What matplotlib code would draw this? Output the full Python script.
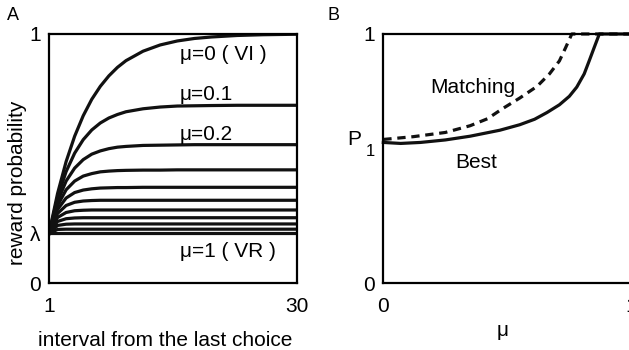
import matplotlib
matplotlib.use('Agg')
import matplotlib.pyplot as plt

plt.rcParams['font.family'] = ['Liberation Sans', 'DejaVu Sans']

# panel A: reward probability vs interval, one curve per mu (0, 0.1, ... 1)
t = [1, 2, 3, 4, 5, 6, 7, 8, 9, 10, 12, 14, 16, 18, 20, 23, 26, 30]
curves = [
    [.200, .360, .488, .590, .672, .738, .790, .832, .866, .893, .931, .956, .972, .982, .988, .994, .997, .999],
    [.200, .344, .448, .522, .576, .615, .643, .663, .677, .688, .700, .707, .711, .712, .713, .714, .714, .714],
    [.200, .328, .410, .462, .496, .518, .531, .540, .546, .549, .553, .554, .555, .556, .556, .556, .556, .556],
    [.200, .312, .375, .410, .430, .440, .447, .450, .452, .453, .454, .454, .455, .455, .455, .455, .455, .455],
    [.200, .296, .342, .364, .374, .379, .382, .383, .384, .384, .385, .385, .385, .385, .385, .385, .385, .385],
    [.200, .280, .312, .325, .330, .332, .333, .333, .333, .333, .333, .333, .333, .333, .333, .333, .333, .333],
    [.200, .264, .284, .291, .293, .294, .294, .294, .294, .294, .294, .294, .294, .294, .294, .294, .294, .294],
    [.200, .248, .259, .262, .263, .263, .263, .263, .263, .263, .263, .263, .263, .263, .263, .263, .263, .263],
    [.200, .232, .237, .238, .238, .238, .238, .238, .238, .238, .238, .238, .238, .238, .238, .238, .238, .238],
    [.200, .216, .217, .217, .217, .217, .217, .217, .217, .217, .217, .217, .217, .217, .217, .217, .217, .217],
    [.200, .200, .200, .200, .200, .200, .200, .200, .200, .200, .200, .200, .200, .200, .200, .200, .200, .200],
]
curve_labels = ['\u03bc=0 ( VI )', '\u03bc=0.1', '\u03bc=0.2', '\u03bc=1 ( VR )']
label_y = [0.917, 0.756, 0.596, 0.126]

# panel B: P1 vs mu for best and matching behaviour
mu_best = [0, .07, .15, .25, .35, .47, .55, .61, .66, .71, .75, .78, .81, .83, .85, .871, 1.0]
p_best = [.565, .561, .565, .575, .59, .614, .636, .658, .685, .716, .75, .787, .84, .892, .945, 1.0, 1.0]
mu_match = [0, .12, .25, .35, .42, .48, .55, .62, .67, .71, .735, .76, 1.0]
p_match = [.577, .588, .605, .632, .66, .70, .743, .79, .84, .892, .945, 1.0, 1.0]

fig = plt.figure(figsize=(6.29, 3.5), dpi=100)
axA = fig.add_axes([0.0779, 0.1906, 0.3943, 0.7123])
axB = fig.add_axes([0.6094, 0.1906, 0.3943, 0.7123])

fs = 15
for ax in (axA, axB):
    for s in ax.spines.values():
        s.set_linewidth(1.6)
    ax.set_ylim(0, 1)
    ax.tick_params(length=0, labelsize=fs)
    ax.tick_params(axis='x', pad=10)
    ax.tick_params(axis='y', pad=6)

# A
for c in curves:
    axA.plot(t, c, color='#111111', lw=2.3)
axA.set_xlim(1, 30)
axA.set_xticks([1, 30])
axA.set_yticks([0, 0.2, 1])
axA.set_yticklabels(['0', '\u03bb', '1'])
for lab, y in zip(curve_labels, label_y):
    axA.text(0.528, y, lab, transform=axA.transAxes, fontsize=fs, va='center')
axA.set_xlabel('interval from the last choice', fontsize=fs)
axA.xaxis.set_label_coords(0.47, -0.19)
axA.set_ylabel('reward probability', fontsize=fs)
axA.yaxis.set_label_coords(-0.09, 0.405)
fig.text(0.011, 0.957, 'A', fontsize=13, va='center')

# B
axB.plot(mu_best, p_best, color='#111111', lw=2.3, clip_on=False)
axB.plot(mu_match, p_match, color='#111111', lw=2.3, ls=(0, (2.6, 1.8)), clip_on=False)
axB.set_xlim(0, 1)
axB.set_xticks([0, 1])
axB.set_yticks([0, 1])
axB.text(0.188, 0.787, 'Matching', transform=axB.transAxes, fontsize=fs, va='center')
axB.text(0.289, 0.483, 'Best', transform=axB.transAxes, fontsize=fs, va='center')
axB.text(-0.147, 0.575, 'P', transform=axB.transAxes, fontsize=fs, va='center')
axB.text(-0.07, 0.53, '1', transform=axB.transAxes, fontsize=12, va='center')
axB.set_xlabel('\u03bc', fontsize=fs)
axB.xaxis.set_label_coords(0.483, -0.15)
fig.text(0.52, 0.957, 'B', fontsize=13, va='center')

fig.savefig('out.png', dpi=100)
